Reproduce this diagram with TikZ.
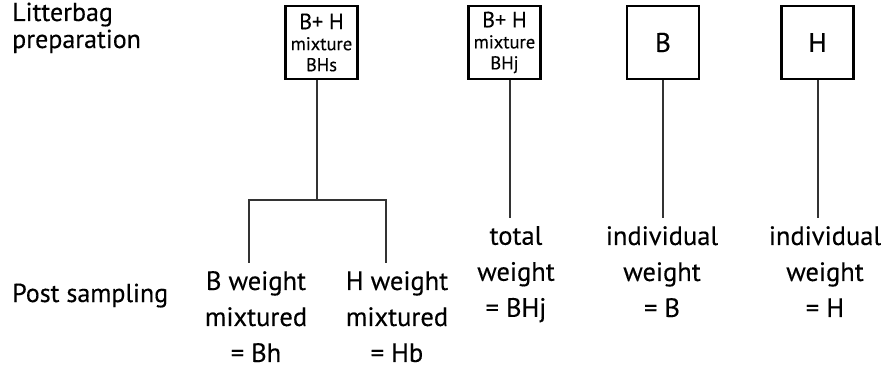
\documentclass[tikz,border=0pt]{standalone}
\usepackage{fontspec}
\setmainfont{PT Sans}[FakeBold=0.3]
\usetikzlibrary{positioning}

\begin{document}
\begin{tikzpicture}[x=1pt,y=-1pt,
    bag/.style={draw=black, line width=2.2pt, minimum width=72pt, minimum height=73pt, inner sep=0pt, align=center, font=\fontsize{27}{21}\selectfont},
    lbl/.style={align=center, anchor=north, inner xsep=0pt, inner ysep=8pt, font=\fontsize{26.5}{36}\selectfont},
    side/.style={align=left, anchor=base west, inner sep=0pt, font=\fontsize{26}{27}\selectfont},
    lnk/.style={draw=black!80, line width=2pt}]
    \useasboundingbox (0,0) rectangle (892,374);
    %%%%% row labels %%%%%
    \node[side] (prep) at (12,48) {Litterbag\\preparation};
    \node[side] (post) at (12,302) {Post sampling};
    %%%%% litterbags %%%%%
    \node[bag] (bhs) at (321.5,42.5) {{\fontsize{22}{21}\selectfont B+ H}\\{\fontsize{18.5}{21}\selectfont mixture}\\{\fontsize{18.5}{21}\selectfont BHs}};
    \node[bag] (bhj) at (504.5,42.5) {{\fontsize{22}{21}\selectfont B+ H}\\{\fontsize{18.5}{21}\selectfont mixture}\\{\fontsize{18.5}{21}\selectfont BHj}};
    \node[bag] (bb) at (663,42.5) {B};
    \node[bag] (hh) at (817.5,42.5) {H};
    %%%%% weighings %%%%%
    \node[lbl] (bw) at (256,263) {B weight\\mixtured\\= Bh};
    \node[lbl] (hw) at (397,263) {H weight\\mixtured\\= Hb};
    \node[lbl] (tw) at (516,218) {total\\weight\\= BHj};
    \node[lbl] (iwb) at (662,218) {individual\\weight\\= B};
    \node[lbl] (iwh) at (825,218) {individual\\weight\\= H};
    %%%%% connectors %%%%%
    \coordinate (split) at (317,200);
    \coordinate (jl) at (249,200);
    \coordinate (jr) at (386,200);
    \draw[lnk] ([xshift=-4.5pt]bhs.south) -- (split);
    \draw[lnk] (jl |- bw.north) -- (jl) -- (jr) -- (jr |- hw.north);
    \draw[lnk] ([xshift=5pt]bhj.south) -- ([xshift=5pt]bhj.south |- tw.north);
    \draw[lnk] (bb.south) -- (bb.south |- iwb.north);
    \draw[lnk] (hh.south) -- (hh.south |- iwh.north);
\end{tikzpicture}
\end{document}
